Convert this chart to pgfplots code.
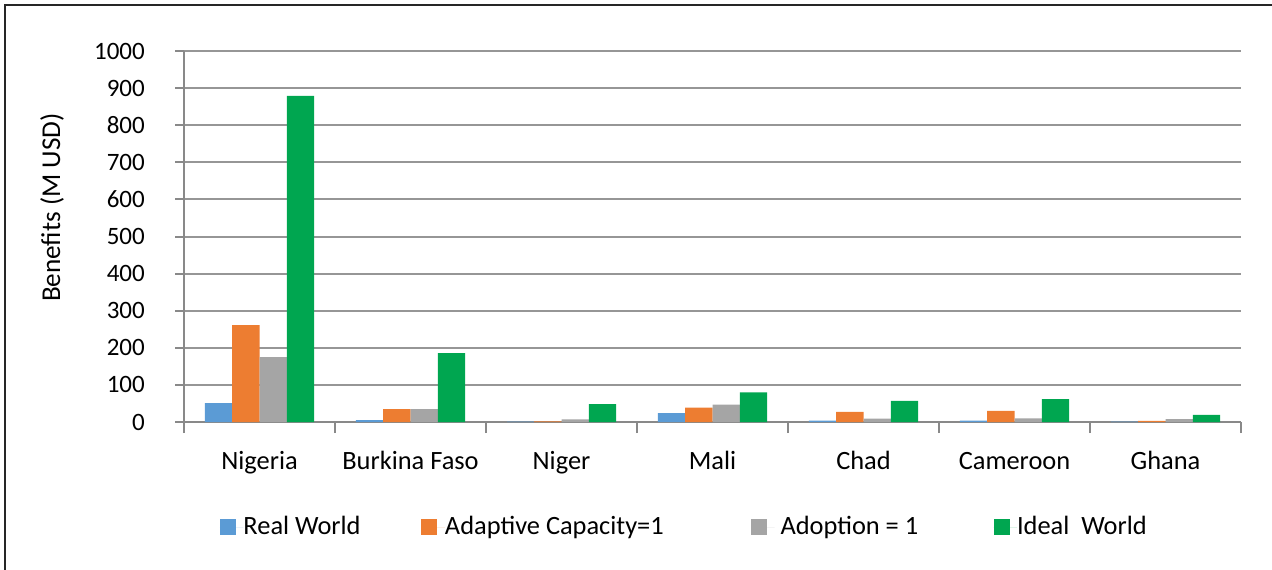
\documentclass[border=0pt]{standalone}
\usepackage{fontspec}
\setmainfont{Carlito}
\usepackage{pgfplots}
\pgfplotsset{compat=1.18}
\definecolor{cBlue}{HTML}{5B9BD5}
\definecolor{cOrange}{HTML}{ED7D31}
\definecolor{cGray}{HTML}{A5A5A5}
\definecolor{cGreen}{HTML}{00A650}
\definecolor{axisgray}{RGB}{137,137,137}
\definecolor{gridgray}{RGB}{150,150,150}
\definecolor{framec}{RGB}{38,38,38}
\begin{document}
\fontsize{13.2pt}{16pt}\selectfont
\begin{tikzpicture}
\useasboundingbox (0,0) rectangle (636pt,284.5pt);
\draw[line width=1.3pt, color=framec] (2.5pt,-3pt) -- (2.5pt,282pt) -- (640pt,282pt);
\begin{axis}[at={(92pt,73.5pt)}, anchor=south west, scale only axis,
  width=528.5pt, height=185.5pt,
  ymin=0, ymax=1000, xmin=-0.5, xmax=6.5,
  ytick={0,100,...,1000},
  xtick={0,...,6},
  xticklabels={Nigeria,Burkina Faso,Niger,Mali,Chad,Cameroon,Ghana},
  minor xtick={-0.5,0.5,...,6.5},
  tick align=outside, major tick length=4.5pt, minor tick length=5.5pt,
  tick style={draw=axisgray, line width=1pt},
  major x tick style={draw=none},
  axis x line*=bottom, axis y line*=left,
  axis line style={draw=axisgray, line width=1pt, -},
  ymajorgrids, major grid style={draw=gridgray, line width=1pt},
  ybar=0pt, bar width=13.65pt,
  /pgf/number format/1000 sep={},
  /pgf/number format/assume math mode=true,
  yticklabel style={font=\fontsize{12.5pt}{15pt}\selectfont, xshift=-10.5pt},
  xticklabel style={font=\fontsize{13.2pt}{16pt}\selectfont, text height=0.75em, text depth=0.25em, yshift=-4.5pt},
  ylabel={Benefits (M USD)},
  every axis y label/.style={at={(axis description cs:-0.1249,0.578)}, rotate=90, anchor=center, font=\fontsize{13.6pt}{16pt}\selectfont},
  legend columns=4,
  legend cell align=left,
  legend style={at={(axis description cs:0.028,-0.283)}, anchor=west, draw=none, fill=none,
    /tikz/every even column/.append style={column sep=0pt},
    nodes={inner sep=0pt}, font=\fontsize{13.2pt}{16pt}\selectfont},
  legend image code/.code={\fill[#1,draw=none] (0pt,-4pt) rectangle (8pt,4pt); \path (0pt,0pt) -- (11.75pt,0pt);},
]
\addplot[fill=cBlue, draw=none] coordinates {(0,51) (1,5) (2,1) (3,24) (4,4) (5,4) (6,1)};
\addplot[fill=cOrange, draw=none] coordinates {(0,261) (1,35) (2,2) (3,39) (4,27) (5,30) (6,3)};
\addplot[fill=cGray, draw=none] coordinates {(0,175) (1,35) (2,7) (3,47) (4,9) (5,10) (6,8)};
\addplot[fill=cGreen, draw=none] coordinates {(0,879) (1,186) (2,48) (3,80) (4,57) (5,62) (6,19)};
\addlegendentry{\makebox[89pt][l]{Real World}}
\addlegendentry{\makebox[153pt][l]{Adaptive Capacity=1}}
\addlegendentry{\makebox[109.5pt][l]{\hspace{3pt}Adoption = 1}}
\addlegendentry{Ideal\ \ World}
\end{axis}
\end{tikzpicture}
\end{document}
